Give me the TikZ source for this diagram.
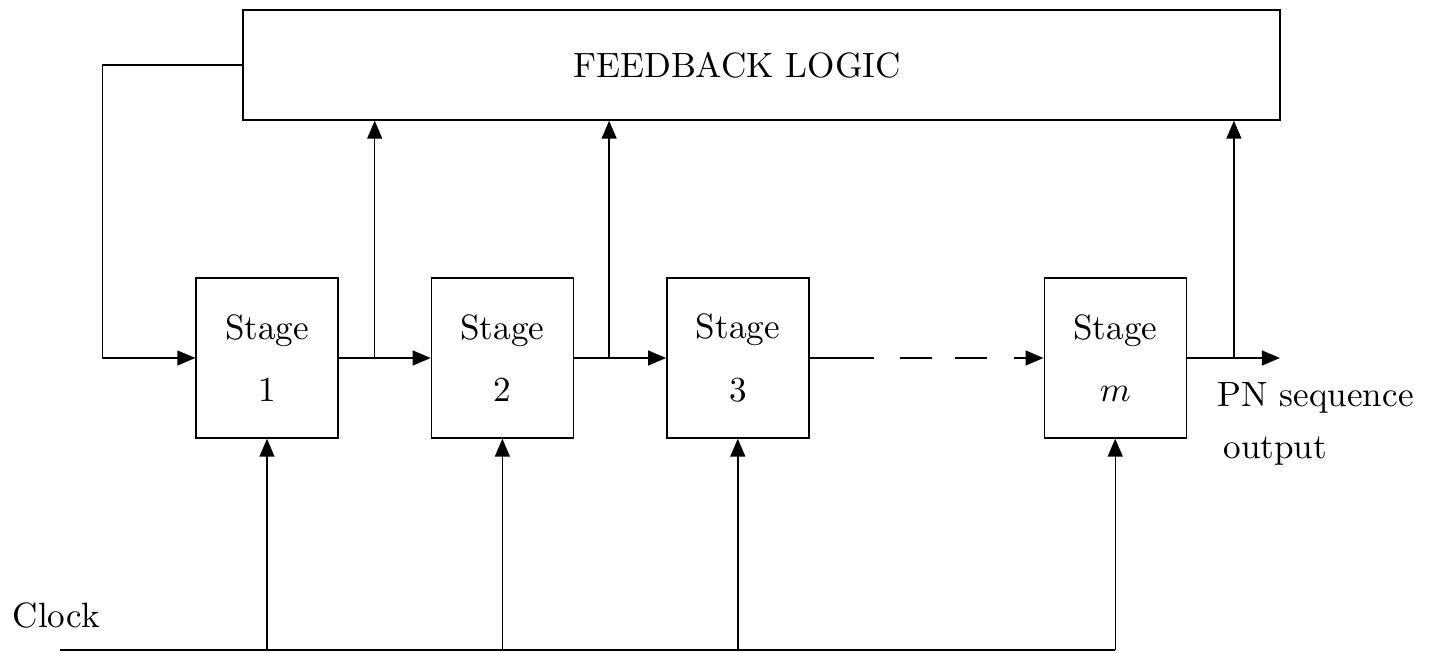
\documentclass[tikz,border=0pt]{standalone}
\usetikzlibrary{positioning, arrows.meta}
\tikzset{
line width=0.8pt,
>={Triangle[length=0.18cm,width=0.15cm]}, % filled arrow heads
stage/.style={draw, minimum width=1.42cm, minimum height=1.6cm, align=center, inner sep=0pt}, % one shift register stage
fbbox/.style={draw, minimum width=10.37cm, minimum height=1.1cm}, % the feedback logic block
note/.style={inner sep=0pt, align=left},
}

\begin{document}
\begin{tikzpicture}
    \useasboundingbox (0,0) rectangle (14.31,6.52);

    \node[fbbox] (FB) at (7.615,5.87) {};
    \node (FBtext) at (7.37,5.87) {FEEDBACK LOGIC};

    \node[stage] (S1) at (2.67,2.94) {Stage\\[0.2cm]1};
    \node[stage, right=0.92cm of S1] (S2) {Stage\\[0.2cm]2};
    \node[stage, right=0.92cm of S2] (S3) {Stage\\[0.2cm]3};
    \node[stage, right=2.34cm of S3] (Sm) {Stage\\[0.2cm]$m$};

    \coordinate[right=0.36cm of S1.east] (j1);
    \coordinate[right=0.35cm of S2.east] (j2);
    \coordinate[right=0.47cm of Sm.east] (j3);
    \coordinate[right=0.93cm of Sm.east] (OUT);
    \coordinate (CLKa) at (0.6,0.02);
    \coordinate (CLKb) at (Sm.south |- CLKa);

    \node[note, anchor=north west] (PN) at (12.17,2.70) {PN sequence\\[0.1cm]\,output};
    \node[note, anchor=north west] (CLK) at (0.12,0.50) {Clock};

  % shift path
  \draw[->] (FB.west) -- ++(-1.4,0) |- (S1.west);
  \draw[->] (S1) -- (S2);
  \draw[->] (S2) -- (S3);
  \draw[->, dash pattern=on 0.64cm off 0.26cm on 0.32cm off 0.23cm on 0.32cm off 0.27cm on 0.35cm] (S3) -- (Sm);
  \draw[->] (Sm) -- (OUT);

  % taps into the feedback logic
  \draw[->] (j1) -- (j1 |- FB.south);
  \draw[->] (j2) -- (j2 |- FB.south);
  \draw[->] (j3) -- (j3 |- FB.south);

  % clock
  \draw (CLKa) -- (CLKb);
  \foreach \s in {S1,S2,S3,Sm}
    \draw[->] (\s.south |- CLKa) -- (\s.south);
\end{tikzpicture}
\end{document}
